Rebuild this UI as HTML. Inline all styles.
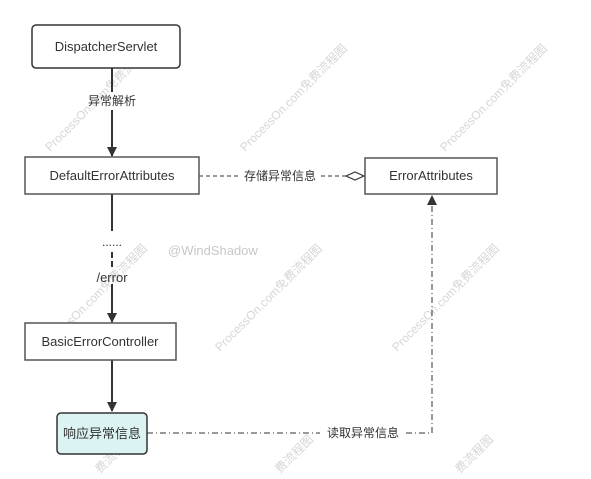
<!DOCTYPE html>
<html><head><meta charset="utf-8"><style>
html,body{margin:0;padding:0;background:#fff;width:591px;height:479px;overflow:hidden}
svg{display:block}
text{font-family:"Liberation Sans","Noto Sans CJK SC",sans-serif}
</style></head><body>
<svg width="591" height="479" viewBox="0 0 591 479" xmlns="http://www.w3.org/2000/svg" overflow="hidden">
<defs>
<marker id="ar" markerWidth="10" markerHeight="10" refX="9" refY="5" orient="auto" markerUnits="userSpaceOnUse"><path d="M0,0 L10,5 L0,10 z" fill="#333"/></marker>
</defs>
<g fill="#d6d6d6" font-size="12">
<text transform="translate(50,152) rotate(-45)">ProcessOn.com免费流程图</text>
<text transform="translate(245,152) rotate(-45)">ProcessOn.com免费流程图</text>
<text transform="translate(445,152) rotate(-45)">ProcessOn.com免费流程图</text>
<text transform="translate(45,352) rotate(-45)">ProcessOn.com免费流程图</text>
<text transform="translate(220,352) rotate(-45)">ProcessOn.com免费流程图</text>
<text transform="translate(397,352) rotate(-45)">ProcessOn.com免费流程图</text>
<text transform="translate(100,474) rotate(-45)">费流程图</text>
<text transform="translate(280,474) rotate(-45)">费流程图</text>
<text transform="translate(460,474) rotate(-45)">费流程图</text>
</g>
<text x="168" y="255" font-size="13" fill="#c8c8c8">@WindShadow</text>
<line x1="112" y1="68" x2="112" y2="92" stroke="#333" stroke-width="2"/>
<line x1="112" y1="110" x2="112" y2="156" stroke="#333" stroke-width="2" marker-end="url(#ar)"/>
<text x="112" y="105" font-size="12" fill="#333" text-anchor="middle">异常解析</text>
<line x1="112" y1="194" x2="112" y2="231" stroke="#333" stroke-width="2"/>
<text x="112" y="246" font-size="12" fill="#333" text-anchor="middle">......</text>
<line x1="112" y1="252" x2="112" y2="268" stroke="#333" stroke-width="2" stroke-dasharray="6,3"/>
<line x1="112" y1="284" x2="112" y2="322" stroke="#333" stroke-width="2" marker-end="url(#ar)"/>
<text x="112" y="282" font-size="13" fill="#333" text-anchor="middle">/error</text>
<line x1="112" y1="360" x2="112" y2="411" stroke="#333" stroke-width="2" marker-end="url(#ar)"/>
<line x1="199" y1="176" x2="238" y2="176" stroke="#333" stroke-width="1" stroke-dasharray="4,3"/>
<text x="280" y="180" font-size="12" fill="#333" text-anchor="middle">存储异常信息</text>
<line x1="321" y1="176" x2="346" y2="176" stroke="#333" stroke-width="1" stroke-dasharray="4,3"/>
<path d="M346,176 L355,172 L364,176 L355,180 z" fill="#fff" stroke="#333" stroke-width="1.2"/>
<polyline points="147,433 320,433" fill="none" stroke="#333" stroke-width="1" stroke-dasharray="6,3,1,3"/>
<text x="363" y="437" font-size="12" fill="#333" text-anchor="middle">读取异常信息</text>
<polyline points="406,433 432,433 432,196" fill="none" stroke="#333" stroke-width="1" stroke-dasharray="6,3,1,3" marker-end="url(#ar)"/>
<rect x="32" y="25" width="148" height="43" rx="4" fill="#fff" stroke="#333" stroke-width="1.5"/>
<text x="106" y="51" font-size="13" fill="#333" text-anchor="middle">DispatcherServlet</text>
<rect x="25" y="157" width="174" height="37" fill="#fff" stroke="#555" stroke-width="1.5"/>
<text x="112" y="180" font-size="13" fill="#333" text-anchor="middle">DefaultErrorAttributes</text>
<rect x="365" y="158" width="132" height="36" fill="#fff" stroke="#555" stroke-width="1.5"/>
<text x="431" y="180" font-size="13" fill="#333" text-anchor="middle">ErrorAttributes</text>
<rect x="25" y="323" width="151" height="37" fill="#fff" stroke="#555" stroke-width="1.5"/>
<text x="100" y="346" font-size="13" fill="#333" text-anchor="middle">BasicErrorController</text>
<rect x="57" y="413" width="90" height="41" rx="4" fill="#dbf3f3" stroke="#333" stroke-width="1.5"/>
<text x="102" y="438" font-size="13" fill="#333" text-anchor="middle">响应异常信息</text>
</svg>
</body></html>
